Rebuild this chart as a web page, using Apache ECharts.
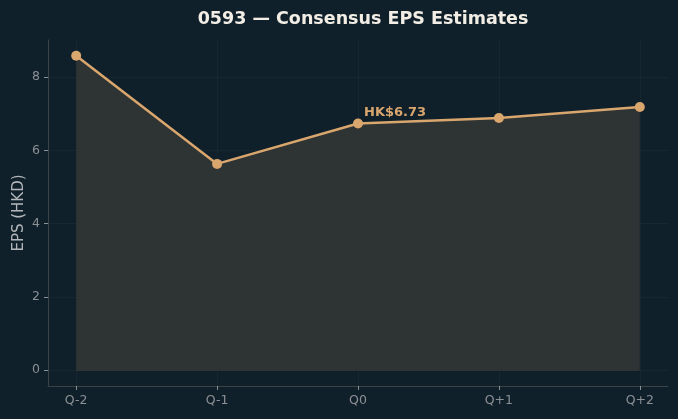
<!DOCTYPE html>
<html>
<head>
<meta charset="utf-8">
<script src="https://cdn.jsdelivr.net/npm/echarts@6/dist/echarts.min.js"></script>
<style>
  html, body { margin: 0; padding: 0; background: #10202a; }
  #chart { width: 678px; height: 419px; }
</style>
</head>
<body>
<div id="chart"></div>
<script>
// quarters and consensus EPS (HKD)
const quarters = ['Q-2', 'Q-1', 'Q0', 'Q+1', 'Q+2']
const epsValues = [8.58, 5.63, 6.73, 6.88, 7.18]
const yTicks = [0, 2, 4, 6, 8]
const labelIndex = 2

const xTicks = quarters.map((q, i) => i)

const chart = echarts.init(document.getElementById('chart'))

const axisColor = '#3b4347'
const tickLabelColor = '#8b9094'
const gridColor = 'rgba(255,255,255,0.03)'
const fontFamily = 'DejaVu Sans'

const option = {
  backgroundColor: '#10202a',
  animation: false,
  title: {
    text: '0593 — Consensus EPS Estimates',
    left: 358,
    textAlign: 'center',
    top: 5,
    textStyle: {
      color: '#f2eee6',
      fontSize: 17.5,
      fontWeight: 'bold',
      fontFamily
    }
  },
  grid: {
    left: 48,
    right: 10,
    top: 40,
    bottom: 33,
    outerBoundsMode: 'none'
  },
  xAxis: {
    type: 'value',
    min: -0.2,
    max: 4.2,
    axisLine: { onZero: false, lineStyle: { color: axisColor } },
    axisTick: {
      customValues: xTicks,
      length: 4,
      lineStyle: { color: '#8b9094' }
    },
    axisLabel: {
      customValues: xTicks,
      formatter: (v) => quarters[Math.round(v)] || '',
      color: tickLabelColor,
      fontSize: 12.5,
      fontFamily,
      margin: 8
    },
    splitLine: {
      show: true,
      customValues: xTicks,
      lineStyle: { color: gridColor }
    }
  },
  yAxis: {
    type: 'value',
    min: -0.43,
    max: 9.01,
    name: 'EPS (HKD)',
    nameLocation: 'middle',
    nameGap: 21,
    nameMoveOverlap: false,
    nameTextStyle: {
      color: '#b3b7bb',
      fontSize: 15,
      fontFamily
    },
    axisLine: { show: true, onZero: false, lineStyle: { color: axisColor } },
    axisTick: {
      show: true,
      customValues: yTicks,
      length: 4,
      lineStyle: { color: '#8b9094' }
    },
    axisLabel: {
      customValues: yTicks,
      color: tickLabelColor,
      fontSize: 12.5,
      fontFamily,
      margin: 8
    },
    splitLine: {
      show: true,
      customValues: yTicks,
      lineStyle: { color: gridColor }
    }
  },
  series: [
    {
      type: 'line',
      data: quarters.map((q, i) => [i, 0]),
      symbol: 'none',
      lineStyle: { color: '#3a3c37', width: 1 },
      silent: true,
      z: 1
    },
    {
      type: 'line',
      data: epsValues.map((v, i) => {
        const point = { value: [i, v] }
        if (i === labelIndex) {
          point.label = {
            show: true,
            position: 'top',
            distance: 5,
            align: 'left',
            offset: [6, 6],
            formatter: 'HK$' + v.toFixed(2),
            color: '#d9a66e',
            fontSize: 13,
            fontWeight: 'bold',
            fontFamily
          }
        }
        return point
      }),
      symbol: 'circle',
      symbolSize: 10,
      itemStyle: { color: '#d9a66e' },
      lineStyle: { color: '#d9a66e', width: 2.5 },
      areaStyle: { color: '#2e3333', opacity: 1, origin: 0 },
      z: 2
    }
  ]
}

chart.setOption(option)
</script>
</body>
</html>
